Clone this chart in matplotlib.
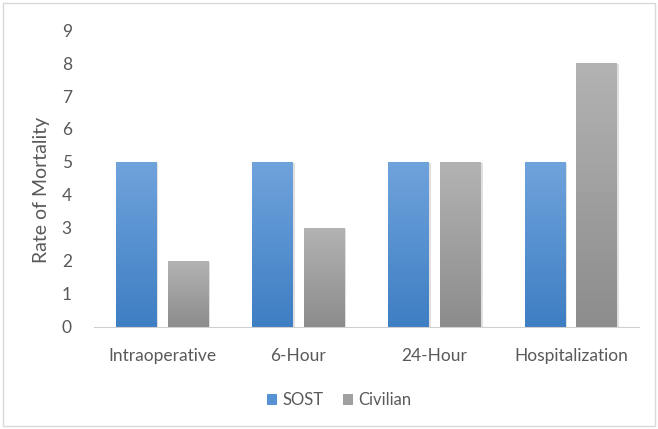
import matplotlib
matplotlib.use("Agg")
import matplotlib.pyplot as plt
import numpy as np
from matplotlib.patches import Rectangle

# ── Data ──────────────────────────────────────────────────────────────────────
categories = ["Intraoperative", "6-Hour", "24-Hour", "Hospitalization"]
sost = [5, 5, 5, 5]
civilian = [2, 3, 5, 8]

plt.rcParams["font.family"] = ["Lato", "DejaVu Sans"]
text_col = "#595959"

fig = plt.figure(figsize=(6.58, 4.29), dpi=100)
ax = fig.add_axes([0.143, 0.238, 0.828, 0.692])

x = np.arange(len(categories))
w = 0.30
off = 0.19


def gradient_bars(xs, heights, top, bottom):
    bars = ax.bar(xs, heights, width=w, color="none", edgecolor="none", zorder=2)
    grad = np.linspace(0, 1, 256).reshape(-1, 1)
    cmap = matplotlib.colors.LinearSegmentedColormap.from_list("g", [bottom, top])
    for b in bars:
        bx, by = b.get_x(), b.get_y()
        bw, bh = b.get_width(), b.get_height()
        # soft shadow
        ax.add_patch(Rectangle((bx + 0.012, by), bw, bh - 0.03, color="#000000",
                               alpha=0.12, lw=0, zorder=1.5))
        im = ax.imshow(grad, extent=[bx, bx + bw, by, by + bh], origin="lower",
                       cmap=cmap, aspect="auto", zorder=2)
        im.set_clip_path(b)
    return bars


gradient_bars(x - off, sost, "#6fa3dc", "#3e7ec3")
gradient_bars(x + off, civilian, "#b3b3b3", "#8c8c8c")

# legend proxies
ax.bar([0], [0], color="#5793d3", label="SOST")
ax.bar([0], [0], color="#a0a0a0", label="Civilian")

ax.set_xlim(-0.5, 3.5)
ax.set_ylim(0, 9)
ax.set_yticks(range(0, 10))
ax.set_xticks(x)
ax.set_xticklabels(categories)
for s in ["top", "right", "left"]:
    ax.spines[s].set_visible(False)
ax.spines["bottom"].set_color("#d0d0d0")
ax.tick_params(axis="both", length=0, labelsize=12.5, colors=text_col)
ax.tick_params(axis="x", pad=15)
ax.tick_params(axis="y", pad=16)
ax.set_ylabel("Rate of Mortality", fontsize=14, color=text_col)
ax.yaxis.set_label_coords(-0.081, 0.46)

ax.legend(loc="upper center", bbox_to_anchor=(0.45, -0.17), ncol=2, frameon=False,
          fontsize=12, labelcolor=text_col, handlelength=0.6, handleheight=0.6,
          handletextpad=0.3, columnspacing=1.2)

fig.patches.append(Rectangle((0.004, 0.006), 0.992, 0.988, transform=fig.transFigure,
                             fill=False, edgecolor="#d9d9d9", lw=1))

fig.savefig("out.png", dpi=100)
